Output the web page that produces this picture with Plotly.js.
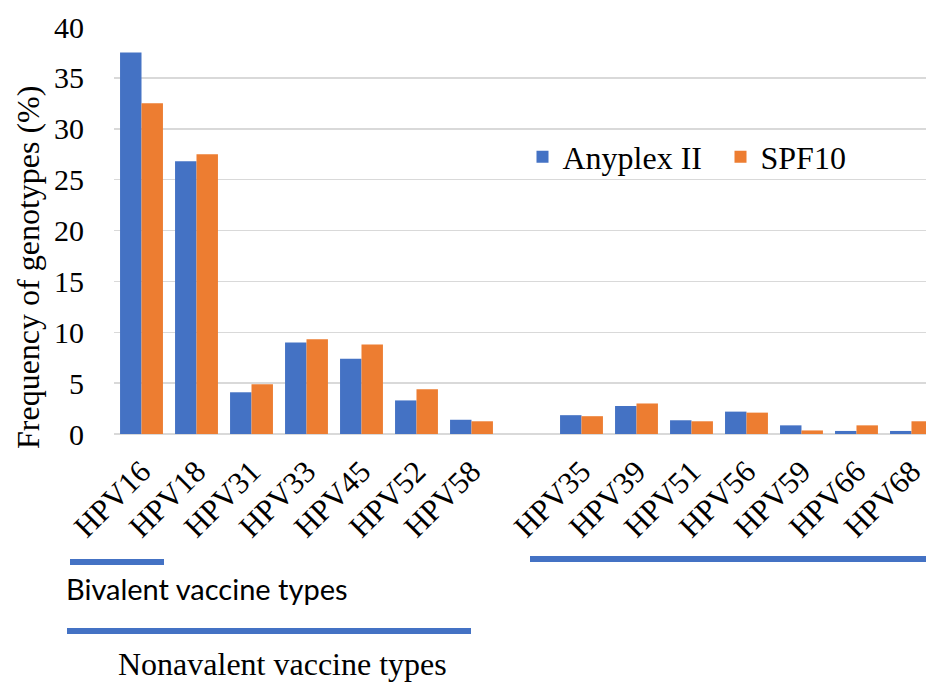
<!DOCTYPE html>
<html>
<head>
<meta charset="utf-8">
<script src="https://cdn.plot.ly/plotly-3.0.1.min.js"></script>
<style>
html,body{margin:0;padding:0;background:#fff;overflow:hidden;}
#chart{width:926px;height:682px;}
</style>
</head>
<body>
<div id="chart"></div>
<script>
const categories = ["HPV16","HPV18","HPV31","HPV33","HPV45","HPV52","HPV58"," ","HPV35","HPV39","HPV51","HPV56","HPV59","HPV66","HPV68"];
const anyplexII = [37.5, 26.8, 4.1, 9.0, 7.4, 3.3, 1.4, null, 1.85, 2.75, 1.35, 2.2, 0.85, 0.3, 0.3];
const spf10     = [32.5, 27.5, 4.9, 9.3, 8.8, 4.4, 1.25, null, 1.75, 3.0, 1.25, 2.1, 0.35, 0.85, 1.25];
const yTicks = [0,5,10,15,20,25,30,35,40];
const yTitle = "Frequency of genotypes (%)";

const serif = "Liberation Serif";
const sans = "Lato";
const blue = "#4472C4", orange = "#ED7D31";

const traces = [
  {type:"bar", name:"Anyplex II", x:categories, y:anyplexII, marker:{color:blue}},
  {type:"bar", name:"SPF10", x:categories, y:spf10, marker:{color:orange}}
];

const W = 926, H = 682, L = 114, T = 27, B = 248;
const pw = W - L, ph = H - T - B;
const px = v => (v - L) / pw;
const py = v => (H - B - v) / ph;

const layout = {
  width: W, height: H,
  margin:{l:L, r:0, t:T, b:B, pad:0, autoexpand:false},
  paper_bgcolor:"#fff", plot_bgcolor:"#fff",
  barmode:"group", bargap:0.22, bargroupgap:0,
  font:{family:serif, color:"#000", size:29},
  xaxis:{
    type:"category", categoryorder:"array", categoryarray:categories,
    range:[-0.5, 14.264], tickangle:-45, ticks:"", showgrid:false,
    showline:false, zeroline:false, ticklabelstandoff:12, automargin:false,
    tickfont:{family:serif, size:31, color:"#000"}
  },
  yaxis:{
    range:[0,40], tickvals:yTicks, ticktext:yTicks.map(String),
    showgrid:true, gridcolor:"#d9d9d9", gridwidth:1.5,
    zeroline:true, zerolinecolor:"#d9d9d9", zerolinewidth:1.5,
    showline:false, ticks:"", ticklabelstandoff:29, automargin:false,
    tickfont:{family:serif, size:30, color:"#000"}
  },
  showlegend:true,
  legend:{
    orientation:"h", x:px(522.5), xanchor:"left", y:py(157), yanchor:"middle",
    font:{family:serif, size:32, color:"#000"}, bgcolor:"rgba(0,0,0,0)",
    itemwidth:30, traceorder:"normal", entrywidth:153, entrywidthmode:"pixels"
  },
  shapes:[
    {type:"line", xref:"paper", yref:"paper", x0:px(70), x1:px(164), y0:py(562), y1:py(562), line:{color:blue, width:6}},
    {type:"line", xref:"paper", yref:"paper", x0:px(67), x1:px(471), y0:py(631), y1:py(631), line:{color:blue, width:6}},
    {type:"line", xref:"paper", yref:"paper", x0:px(530), x1:1.0, y0:py(559), y1:py(559), line:{color:blue, width:6}}
  ],
  annotations:[
    {xref:"paper", yref:"paper", x:px(28), y:py(268), xanchor:"center", yanchor:"middle", showarrow:false,
     textangle:-90, text:yTitle, font:{family:serif, size:32, color:"#000"}},
    {xref:"paper", yref:"paper", x:px(64), y:py(588), xanchor:"left", yanchor:"middle", showarrow:false,
     text:"Bivalent vaccine types", font:{family:sans, size:29, color:"#000"}},
    {xref:"paper", yref:"paper", x:px(116), y:py(664), xanchor:"left", yanchor:"middle", showarrow:false,
     text:"Nonavalent vaccine types", font:{family:serif, size:32, color:"#000"}}
  ]
};

Plotly.newPlot("chart", traces, layout, {displayModeBar:false, staticPlot:true});
</script>
</body>
</html>
